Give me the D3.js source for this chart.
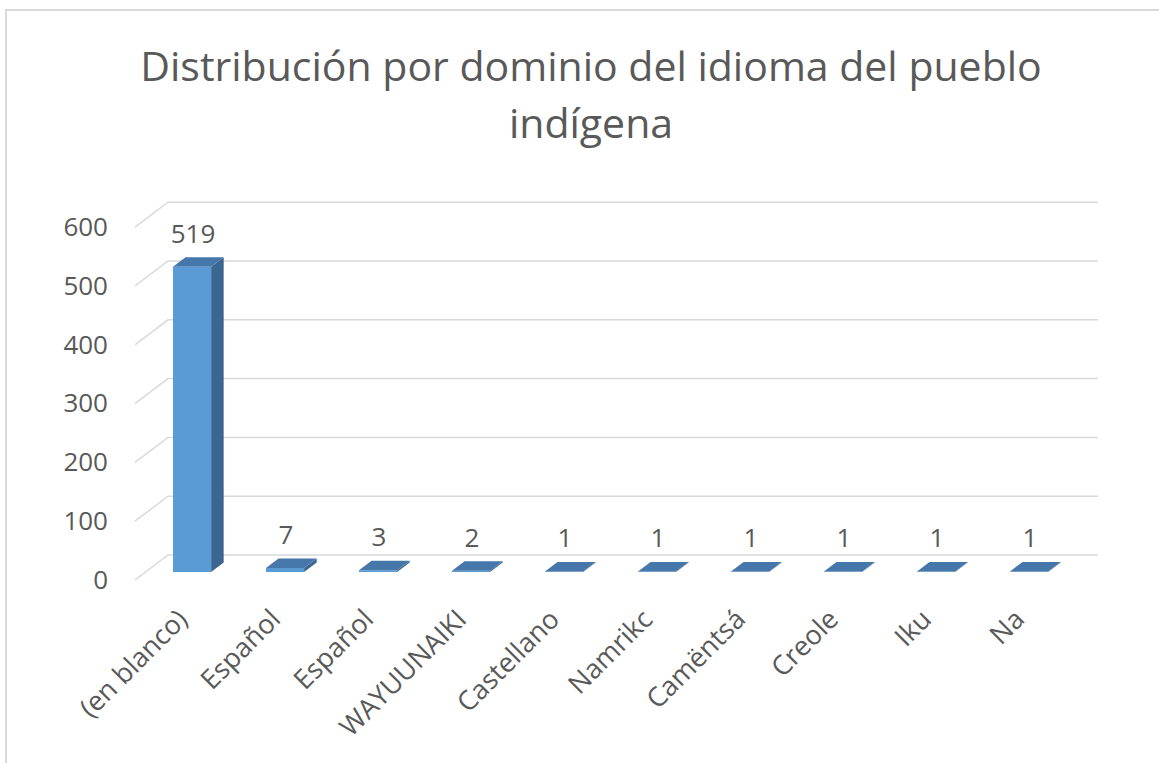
<!DOCTYPE html>
<html>
<head>
<meta charset="utf-8">
<script src="https://cdn.jsdelivr.net/npm/d3@7"></script>
<style>
  html, body { margin: 0; padding: 0; background: #ffffff; }
  svg { display: block; }
  text { font-family: "Open Sans", "Noto Sans", sans-serif; fill: #595959; }
</style>
</head>
<body>
<svg id="chart" width="1159" height="763"></svg>
<script>
// ---- data ----
const categories = ["(en blanco)", "Español", "Español", "WAYUUNAIKI", "Castellano", "Namrikc", "Camëntsá", "Creole", "Iku", "Na"];
const values = [519, 7, 3, 2, 1, 1, 1, 1, 1, 1];
const yTicks = [0, 100, 200, 300, 400, 500, 600];
const titleLines = ["Distribución por dominio del idioma del pueblo", "indígena"];

// ---- layout ----
const floorX = 135, floorY = 580;      // front-left corner of the floor (value 0, depth 0)
const depthDX = 33, depthDY = -25;      // full depth offset of the box
const plotW = 930;
const barZ0 = 0.32, barZ1 = 0.70;       // bar depth position (fraction of box depth)

const svg = d3.select("#chart");

// chart border
svg.append("rect")
  .attr("x", 6).attr("y", 10).attr("width", 1170).attr("height", 800)
  .attr("fill", "#ffffff").attr("stroke", "#d9d9d9").attr("stroke-width", 2);

const x = d3.scaleBand().domain(d3.range(categories.length)).range([0, plotW]).paddingInner(0).paddingOuter(0);
const y = d3.scaleLinear().domain([0, 600]).range([0, 352.8]);

function P(u, v, z) {
  return [floorX + u + depthDX * z, floorY + depthDY * z - y(v)];
}

// ---- gridlines on back wall and side wall diagonals ----
const grid = svg.append("g");
yTicks.forEach(t => {
  const a = P(0, t, 0), b = P(0, t, 1), c = P(plotW, t, 1);
  grid.append("path")
    .attr("d", `M${a[0]},${a[1]}L${b[0]},${b[1]}L${c[0]},${c[1]}`)
    .attr("fill", "none").attr("stroke", "#d9d9d9").attr("stroke-width", 1.5);
});

// ---- y axis labels (via d3 axis) ----
const yAxisScale = d3.scaleLinear().domain([0, 600]).range([floorY - y(0), floorY - y(600)]);
const yAxis = svg.append("g")
  .attr("transform", `translate(${floorX - 19},0)`)
  .call(d3.axisLeft(yAxisScale).tickValues(yTicks).tickSize(0).tickPadding(8).tickFormat(d3.format("d")));
yAxis.select(".domain").remove();
yAxis.selectAll("text")
  .attr("fill", "#595959")
  .style("font-family", '"Open Sans", "Noto Sans", sans-serif')
  .style("font-size", "26px");

// ---- bars ----
const bw = x.bandwidth() * 0.41;
const bars = svg.append("g");
values.forEach((v, i) => {
  const cx = x(i) + x.bandwidth() / 2;
  const l = cx - bw / 2, r = cx + bw / 2;
  const fbl = P(l, 0, barZ0), fbr = P(r, 0, barZ0), ftl = P(l, v, barZ0), ftr = P(r, v, barZ0);
  const bbr = P(r, 0, barZ1), btl = P(l, v, barZ1), btr = P(r, v, barZ1);
  // side
  bars.append("path")
    .attr("d", `M${fbr}L${bbr}L${btr}L${ftr}Z`)
    .attr("fill", "#3a6690");
  // front
  bars.append("path")
    .attr("d", `M${fbl}L${fbr}L${ftr}L${ftl}Z`)
    .attr("fill", "#5b9bd5");
  // top
  bars.append("path")
    .attr("d", `M${ftl}L${ftr}L${btr}L${btl}Z`)
    .attr("fill", "#4677aa");
  // value label
  const lp = P(cx, v, barZ1);
  const fp = P(cx, v, barZ0);
  svg.append("text")
    .attr("x", fp[0] + 1).attr("y", lp[1] - 14.5)
    .attr("text-anchor", "middle")
    .style("font-size", "26px")
    .text(v);
});

// ---- category labels ----
categories.forEach((c, i) => {
  const cx = x(i) + x.bandwidth() / 2;
  const p = P(cx, 0, barZ0);
  svg.append("text")
    .attr("transform", `translate(${p[0] - 3},${621}) rotate(-45)`)
    .attr("text-anchor", "end")
    .style("font-size", "27px")
    .text(c);
});

// ---- title ----
const title = svg.append("text")
  .attr("text-anchor", "middle")
  .style("font-size", "41px");
titleLines.forEach((t, i) => {
  title.append("tspan").attr("x", 591).attr("y", 81 + i * 57).text(t);
});
</script>
</body>
</html>
